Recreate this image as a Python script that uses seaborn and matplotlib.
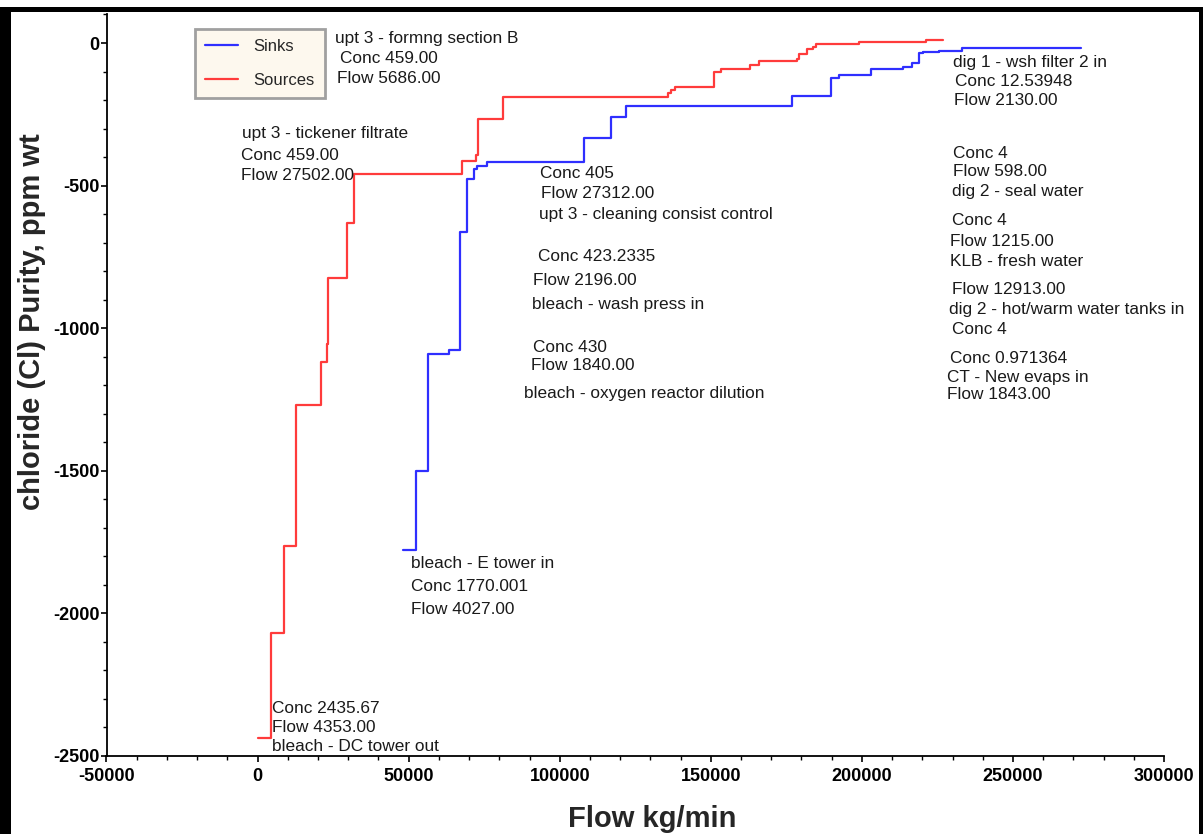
import numpy as np
import pandas as pd
import matplotlib
matplotlib.use("Agg")
import matplotlib.pyplot as plt
import seaborn as sns
from matplotlib.patches import Rectangle
from matplotlib.ticker import MultipleLocator
from matplotlib.lines import Line2D

# ---------------- data ----------------
series_names = ["Sinks", "Sources"]

# Sources composite curve: cumulative flow at each step edge and purity of each step
source_flow_edges = [0, 4304, 8707, 12680, 21088, 23075, 23406, 29564, 32013, 67768,
                     72171, 72932, 81341, 135966, 136959, 138052, 150963, 153512,
                     162981, 165960, 178441, 179203, 181752, 183738, 184831, 199066,
                     221148, 226876]
source_purity = [-2436, -2070, -1765, -1269, -1117, -1055, -825, -632, -459, -415,
                 -394, -268, -191, -175, -164, -154, -101, -91, -77, -64, -57, -40,
                 -21, -13, -5, 4, 10]

# Sinks composite curve
sink_flow_edges = [48236, 52539, 56512, 63332, 66874, 69424, 71608, 72734, 75813,
                   108026, 116864, 122062, 177018, 189864, 192446, 202941, 213700,
                   216514, 218931, 220255, 225552, 233299, 272462]
sink_purity = [-1778, -1502, -1091, -1076, -664, -476, -443, -431, -417, -333, -259,
               -222, -186, -124, -112, -92, -85, -69, -36, -31, -27, -19]

x_ticks = [-50000, 0, 50000, 100000, 150000, 200000, 250000, 300000]
y_ticks = [-2500, -2000, -1500, -1000, -500, 0]

x_label = "Flow kg/min"
y_label = "chloride (Cl) Purity, ppm wt"

# annotation texts with anchor (flow, purity) positions
annotations = [
    (25490, 17, "upt 3 - formng section B"),
    (27140, -54, "Conc 459.00"),
    (26310, -123, "Flow 5686.00"),
    (-5060, -317, "upt 3 - tickener filtrate"),
    (-5630, -395, "Conc 459.00"),
    (-5630, -463, "Flow 27502.00"),
    (93340, -456, "Conc 405"),
    (93670, -529, "Flow 27312.00"),
    (93010, -600, "upt 3 - cleaning consist control"),
    (92910, -747, "Conc 423.2335"),
    (91120, -831, "Flow 2196.00"),
    (90690, -918, "bleach - wash press in"),
    (91120, -1067, "Conc 430"),
    (90590, -1132, "Flow 1840.00"),
    (88140, -1228, "bleach - oxygen reactor dilution"),
    (230150, -69, "dig 1 - wsh filter 2 in"),
    (230810, -136, "Conc 12.53948"),
    (230480, -200, "Flow 2130.00"),
    (230280, -387, "Conc 4"),
    (230280, -451, "Flow 598.00"),
    (229710, -521, "dig 2 - seal water"),
    (229950, -621, "Conc 4"),
    (229150, -697, "Flow 1215.00"),
    (229150, -767, "KLB - fresh water"),
    (229950, -864, "Flow 12913.00"),
    (228820, -936, "dig 2 - hot/warm water tanks in"),
    (229950, -1006, "Conc 4"),
    (229150, -1105, "Conc 0.971364"),
    (228060, -1172, "CT - New evaps in"),
    (228060, -1234, "Flow 1843.00"),
    (50640, -1824, "bleach - E tower in"),
    (50640, -1904, "Conc 1770.001"),
    (50640, -1985, "Flow 4027.00"),
    (4870, -2333, "Conc 2435.67"),
    (4870, -2401, "Flow 4353.00"),
    (4870, -2467, "bleach - DC tower out"),
]

colors = {"Sinks": "#2f2fff", "Sources": "#ff3b3b"}

# ---------------- build step paths ----------------
def step_path(edges, values):
    e = np.asarray(edges, dtype=float)
    v = np.asarray(values, dtype=float)
    xs = np.repeat(e, 2)[1:-1]
    ys = np.repeat(v, 2)
    return xs, ys

sx, sy = step_path(sink_flow_edges, sink_purity)
rx, ry = step_path(source_flow_edges, source_purity)
df = pd.concat([
    pd.DataFrame({"flow": sx, "purity": sy, "stream": "Sinks"}),
    pd.DataFrame({"flow": rx, "purity": ry, "stream": "Sources"}),
], ignore_index=True)

# ---------------- figure ----------------
sns.set_style("white")
plt.rcParams["font.family"] = ["Liberation Sans", "DejaVu Sans"]

W, H = 1203, 834
fig = plt.figure(figsize=(W / 100, H / 100), dpi=100)
fig.patch.set_facecolor("white")

ax_left, ax_right = 106.5, 1164.0
ax_top, ax_bottom = 14.5, 756.0
ax = fig.add_axes([ax_left / W, 1 - ax_bottom / H, (ax_right - ax_left) / W, (ax_bottom - ax_top) / H])
ax.set_facecolor("white")

sns.lineplot(data=df, x="flow", y="purity", hue="stream", palette=colors,
             estimator=None, sort=False, units="stream", linewidth=1.6, ax=ax,
             legend=False)

ax.set_xlim(-50000, 300000)
ax.set_ylim(-2500, 100)
ax.set_xticks(x_ticks)
ax.set_yticks(y_ticks)
ax.set_xticklabels([str(t) for t in x_ticks])
ax.set_yticklabels([str(t) for t in y_ticks])
ax.xaxis.set_minor_locator(MultipleLocator(10000))
ax.yaxis.set_minor_locator(MultipleLocator(100))
ax.tick_params(axis="both", which="major", direction="out", length=4.5, width=1.2,
               color="black", labelsize=13, bottom=True, left=True)
ax.tick_params(axis="x", which="major", pad=4)
ax.tick_params(axis="y", which="major", pad=0.5)
ax.tick_params(axis="both", which="minor", direction="out", length=3, width=1.0,
               color="black", bottom=True, left=True)
for lab in ax.get_xticklabels() + ax.get_yticklabels():
    lab.set_fontweight("bold")
    lab.set_color("black")

for s in ["top", "right"]:
    ax.spines[s].set_visible(False)
for s in ["left", "bottom"]:
    ax.spines[s].set_color("black")
    ax.spines[s].set_linewidth(1.3)
ax.set_xlabel("")
ax.set_ylabel("")

for fx, py, txt in annotations:
    ax.text(fx, py, txt, fontsize=12.4, color="#1a1a1a", ha="left", va="center")

fig.text(652 / W, 1 - 819 / H, x_label, fontsize=21, fontweight="bold",
         ha="center", va="center")
fig.text(32 / W, 1 - 322 / H, y_label, fontsize=21, fontweight="bold",
         ha="center", va="center", rotation=90)

handles = [Line2D([], [], color=colors[n], linewidth=1.6) for n in series_names]
leg = fig.legend(handles, series_names, loc="upper left",
                 bbox_to_anchor=(195 / W, 1 - 29 / H), bbox_transform=fig.transFigure,
                 borderaxespad=0, frameon=True, fancybox=False, fontsize=12,
                 handlelength=2.0, handletextpad=0.9, labelspacing=1.12, borderpad=0.6)
leg.get_frame().set_facecolor("#fdf8ee")
leg.get_frame().set_edgecolor("#a0a0a0")
leg.get_frame().set_linewidth(2.0)
leg.get_frame().set_alpha(1)

# outer black frame
fig.add_artist(Rectangle((0, 1 - 12 / H), 1, 5 / H, transform=fig.transFigure,
                         facecolor="black", edgecolor="none"))
fig.add_artist(Rectangle((0, 0), 11 / W, 1 - 7 / H, transform=fig.transFigure,
                         facecolor="black", edgecolor="none"))
fig.add_artist(Rectangle((1 - 4 / W, 0), 4 / W, 1 - 7 / H, transform=fig.transFigure,
                         facecolor="black", edgecolor="none"))

fig.savefig("out.png", dpi=100, facecolor="white")
